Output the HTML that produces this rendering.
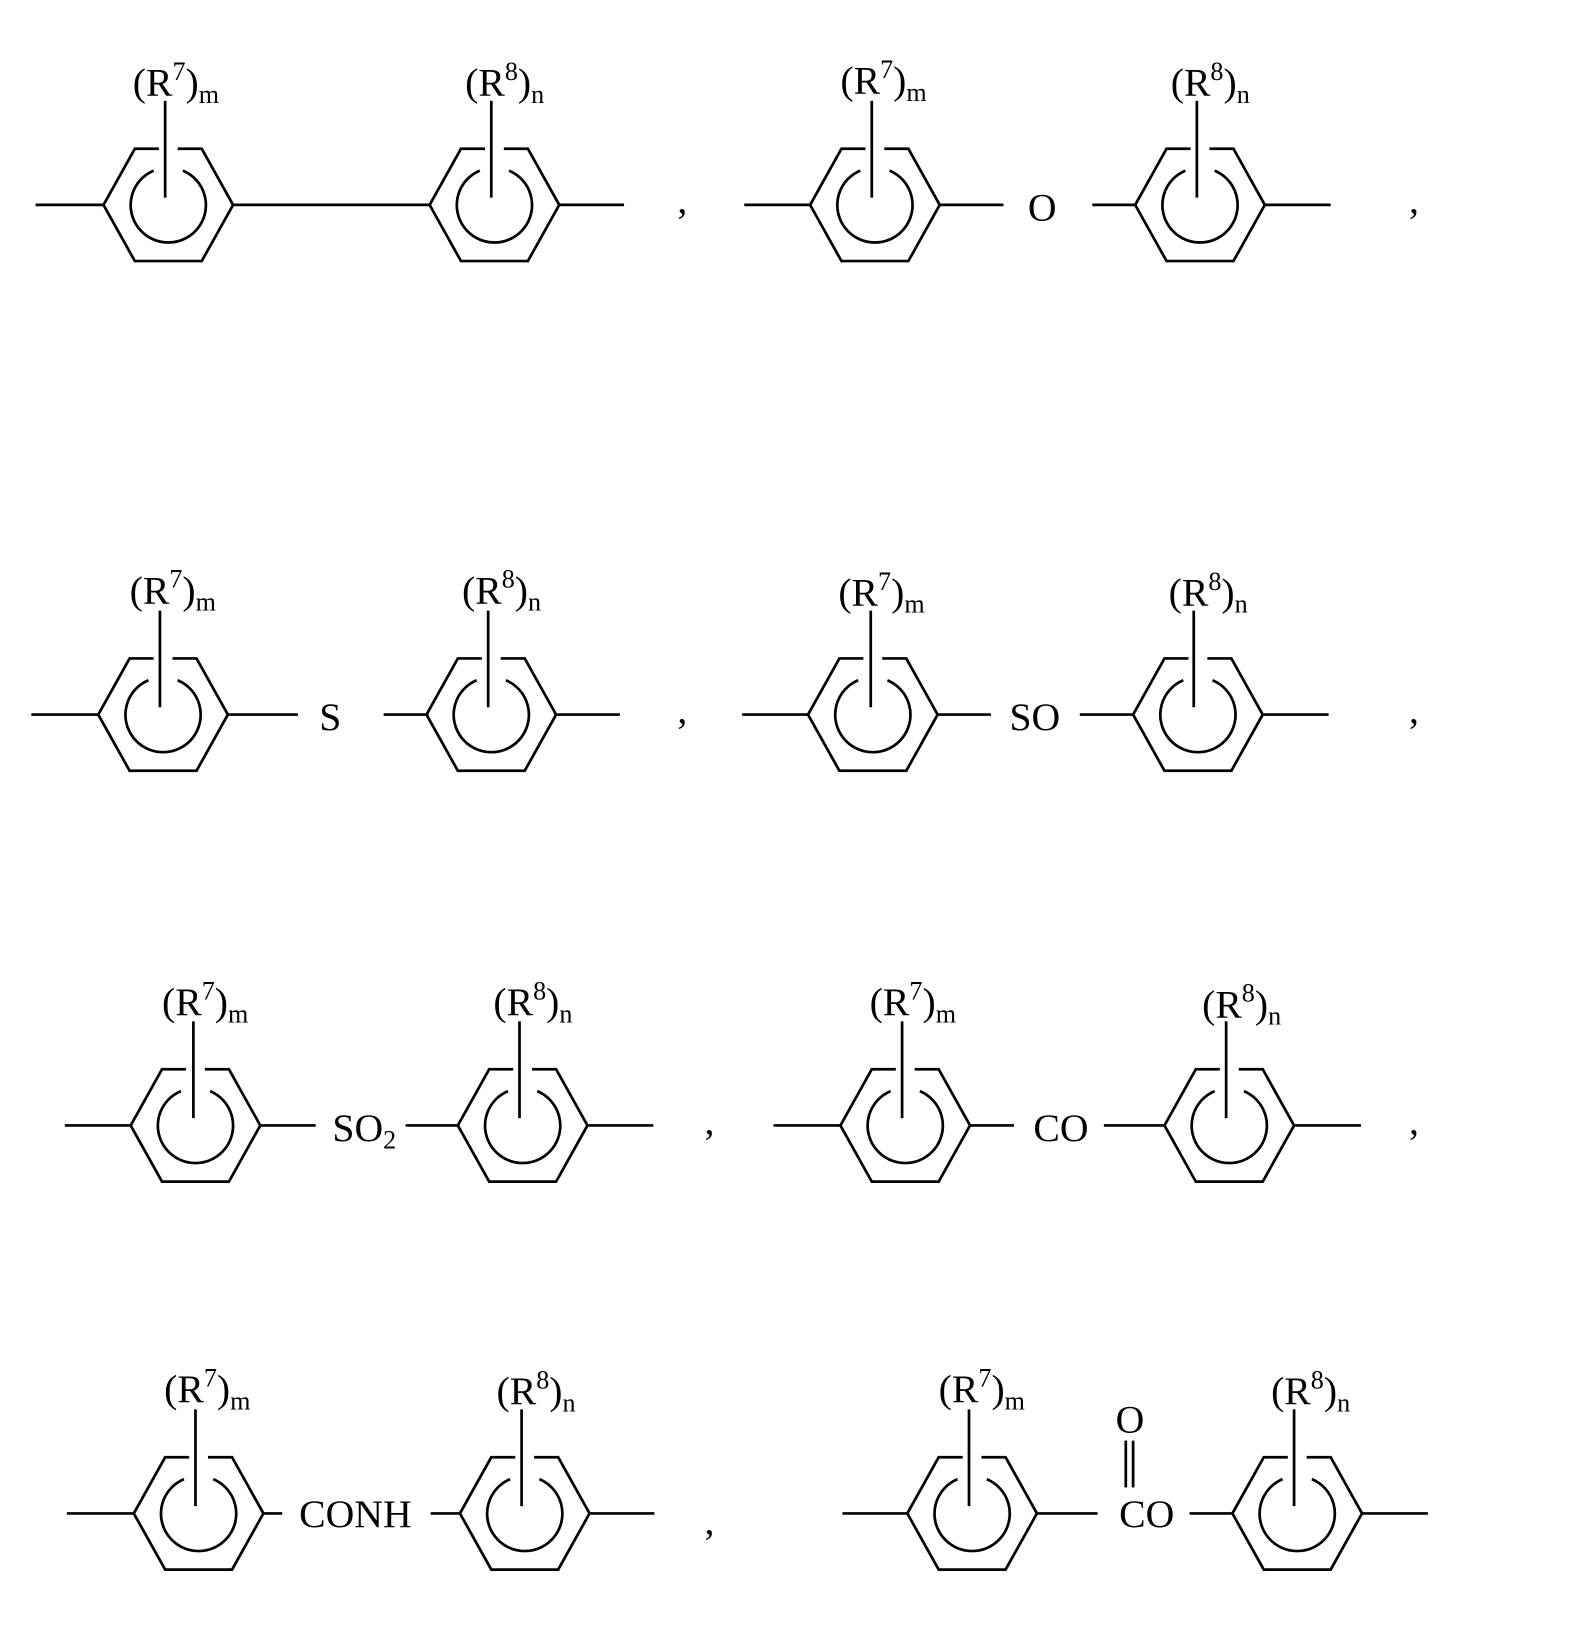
<!DOCTYPE html>
<html><head><meta charset="utf-8"><style>
html,body{margin:0;padding:0;background:#fff;}
svg{display:block;}
text{font-family:"Liberation Serif",serif;fill:#000;}
</style></head><body>
<svg width="1569" height="1632" viewBox="0 0 1501 1569" preserveAspectRatio="none" xmlns="http://www.w3.org/2000/svg">
<defs>
<g id="ring" fill="none" stroke="#000" stroke-width="2.6">
<path d="M-9,-54 L-32,-54 L-62,0 L-32,54 L32,54 L62,0 L32,-54 L9,-54"/>
<path d="M-14,-33 A36,36 0 1 0 14,-33"/>
</g>
</defs>
<g stroke="#000" stroke-width="2.6" fill="none">
<!-- Row1 -->
<line x1="34" y1="197" x2="100" y2="197"/><line x1="222" y1="197" x2="411" y2="197"/><line x1="535" y1="197" x2="597" y2="197"/>
<line x1="158" y1="97" x2="158" y2="190"/><line x1="470" y1="97" x2="470" y2="190"/>
<line x1="712" y1="197" x2="775" y2="197"/><line x1="898" y1="197" x2="960" y2="197"/><line x1="1045" y1="197" x2="1087" y2="197"/><line x1="1210" y1="197" x2="1273" y2="197"/>
<line x1="834" y1="97" x2="834" y2="190"/><line x1="1145" y1="97" x2="1145" y2="190"/>
<!-- Row2 -->
<line x1="30" y1="687" x2="94" y2="687"/><line x1="218" y1="687" x2="285" y2="687"/><line x1="367" y1="687" x2="410" y2="687"/><line x1="530" y1="687" x2="593" y2="687"/>
<line x1="153" y1="587" x2="153" y2="680"/><line x1="467" y1="587" x2="467" y2="680"/>
<line x1="710" y1="687" x2="773" y2="687"/><line x1="896" y1="687" x2="948" y2="687"/><line x1="1033" y1="687" x2="1085" y2="687"/><line x1="1208" y1="687" x2="1271" y2="687"/>
<line x1="833" y1="587" x2="833" y2="680"/><line x1="1142" y1="587" x2="1142" y2="680"/>
<!-- Row3 -->
<line x1="62" y1="1082" x2="125" y2="1082"/><line x1="248" y1="1082" x2="302" y2="1082"/><line x1="388" y1="1082" x2="438" y2="1082"/><line x1="561" y1="1082" x2="625" y2="1082"/>
<line x1="185" y1="982" x2="185" y2="1075"/><line x1="497" y1="982" x2="497" y2="1075"/>
<line x1="740" y1="1082" x2="804" y2="1082"/><line x1="928" y1="1082" x2="970" y2="1082"/><line x1="1056" y1="1082" x2="1115" y2="1082"/><line x1="1238" y1="1082" x2="1302" y2="1082"/>
<line x1="863" y1="982" x2="863" y2="1075"/><line x1="1173" y1="982" x2="1173" y2="1075"/>
<!-- Row4 -->
<line x1="64" y1="1455" x2="128" y2="1455"/><line x1="251" y1="1455" x2="270" y2="1455"/><line x1="412" y1="1455" x2="440" y2="1455"/><line x1="564" y1="1455" x2="626" y2="1455"/>
<line x1="187" y1="1355" x2="187" y2="1448"/><line x1="499" y1="1355" x2="499" y2="1448"/>
<line x1="806" y1="1455" x2="868" y2="1455"/><line x1="991" y1="1455" x2="1050" y2="1455"/><line x1="1138" y1="1455" x2="1180" y2="1455"/><line x1="1303" y1="1455" x2="1366" y2="1455"/>
<line x1="927" y1="1355" x2="927" y2="1448"/><line x1="1238" y1="1355" x2="1238" y2="1448"/>
<line x1="1077" y1="1385" x2="1077" y2="1430"/><line x1="1084" y1="1385" x2="1084" y2="1430"/>
</g>
<use href="#ring" x="161" y="197"/><use href="#ring" x="473" y="197"/><use href="#ring" x="837" y="197"/><use href="#ring" x="1148" y="197"/>
<use href="#ring" x="156" y="687"/><use href="#ring" x="470" y="687"/><use href="#ring" x="835" y="687"/><use href="#ring" x="1146" y="687"/>
<use href="#ring" x="187" y="1082"/><use href="#ring" x="500" y="1082"/><use href="#ring" x="866" y="1082"/><use href="#ring" x="1176" y="1082"/>
<use href="#ring" x="190" y="1455"/><use href="#ring" x="502" y="1455"/><use href="#ring" x="930" y="1455"/><use href="#ring" x="1241" y="1455"/>
<g font-size="38">
<!-- labels row1 -->
<text x="127" y="92">(R<tspan dy="-15" font-size="25">7</tspan><tspan dy="15">)</tspan><tspan dy="7" font-size="25">m</tspan></text>
<text x="445" y="92">(R<tspan dy="-15" font-size="25">8</tspan><tspan dy="15">)</tspan><tspan dy="7" font-size="25">n</tspan></text>
<text x="804" y="90">(R<tspan dy="-15" font-size="25">7</tspan><tspan dy="15">)</tspan><tspan dy="7" font-size="25">m</tspan></text>
<text x="1120" y="92">(R<tspan dy="-15" font-size="25">8</tspan><tspan dy="15">)</tspan><tspan dy="7" font-size="25">n</tspan></text>
<!-- row2 -->
<text x="124" y="580">(R<tspan dy="-15" font-size="25">7</tspan><tspan dy="15">)</tspan><tspan dy="7" font-size="25">m</tspan></text>
<text x="442" y="580">(R<tspan dy="-15" font-size="25">8</tspan><tspan dy="15">)</tspan><tspan dy="7" font-size="25">n</tspan></text>
<text x="802" y="582">(R<tspan dy="-15" font-size="25">7</tspan><tspan dy="15">)</tspan><tspan dy="7" font-size="25">m</tspan></text>
<text x="1118" y="582">(R<tspan dy="-15" font-size="25">8</tspan><tspan dy="15">)</tspan><tspan dy="7" font-size="25">n</tspan></text>
<!-- row3 -->
<text x="155" y="976">(R<tspan dy="-15" font-size="25">7</tspan><tspan dy="15">)</tspan><tspan dy="7" font-size="25">m</tspan></text>
<text x="472" y="976">(R<tspan dy="-15" font-size="25">8</tspan><tspan dy="15">)</tspan><tspan dy="7" font-size="25">n</tspan></text>
<text x="832" y="976">(R<tspan dy="-15" font-size="25">7</tspan><tspan dy="15">)</tspan><tspan dy="7" font-size="25">m</tspan></text>
<text x="1150" y="978">(R<tspan dy="-15" font-size="25">8</tspan><tspan dy="15">)</tspan><tspan dy="7" font-size="25">n</tspan></text>
<!-- row4 -->
<text x="157" y="1348">(R<tspan dy="-15" font-size="25">7</tspan><tspan dy="15">)</tspan><tspan dy="7" font-size="25">m</tspan></text>
<text x="475" y="1350">(R<tspan dy="-15" font-size="25">8</tspan><tspan dy="15">)</tspan><tspan dy="7" font-size="25">n</tspan></text>
<text x="898" y="1348">(R<tspan dy="-15" font-size="25">7</tspan><tspan dy="15">)</tspan><tspan dy="7" font-size="25">m</tspan></text>
<text x="1216" y="1350">(R<tspan dy="-15" font-size="25">8</tspan><tspan dy="15">)</tspan><tspan dy="7" font-size="25">n</tspan></text>
<!-- linkers -->
<text x="997" y="212" text-anchor="middle">O</text>
<text x="316" y="702" text-anchor="middle">S</text>
<text x="990" y="702" text-anchor="middle">SO</text>
<text x="318" y="1097">SO<tspan dy="7" font-size="25">2</tspan></text>
<text x="1015" y="1097" text-anchor="middle">CO</text>
<text x="340" y="1468" text-anchor="middle">CONH</text>
<text x="1097" y="1468" text-anchor="middle">CO</text>
<text x="1081" y="1377" text-anchor="middle">O</text>
<!-- commas -->
<text x="648" y="205">,</text><text x="1348" y="205">,</text>
<text x="648" y="695">,</text><text x="1348" y="695">,</text>
<text x="674" y="1090">,</text><text x="1348" y="1090">,</text>
<text x="674" y="1475">,</text>
</g>
</svg>
</body></html>
